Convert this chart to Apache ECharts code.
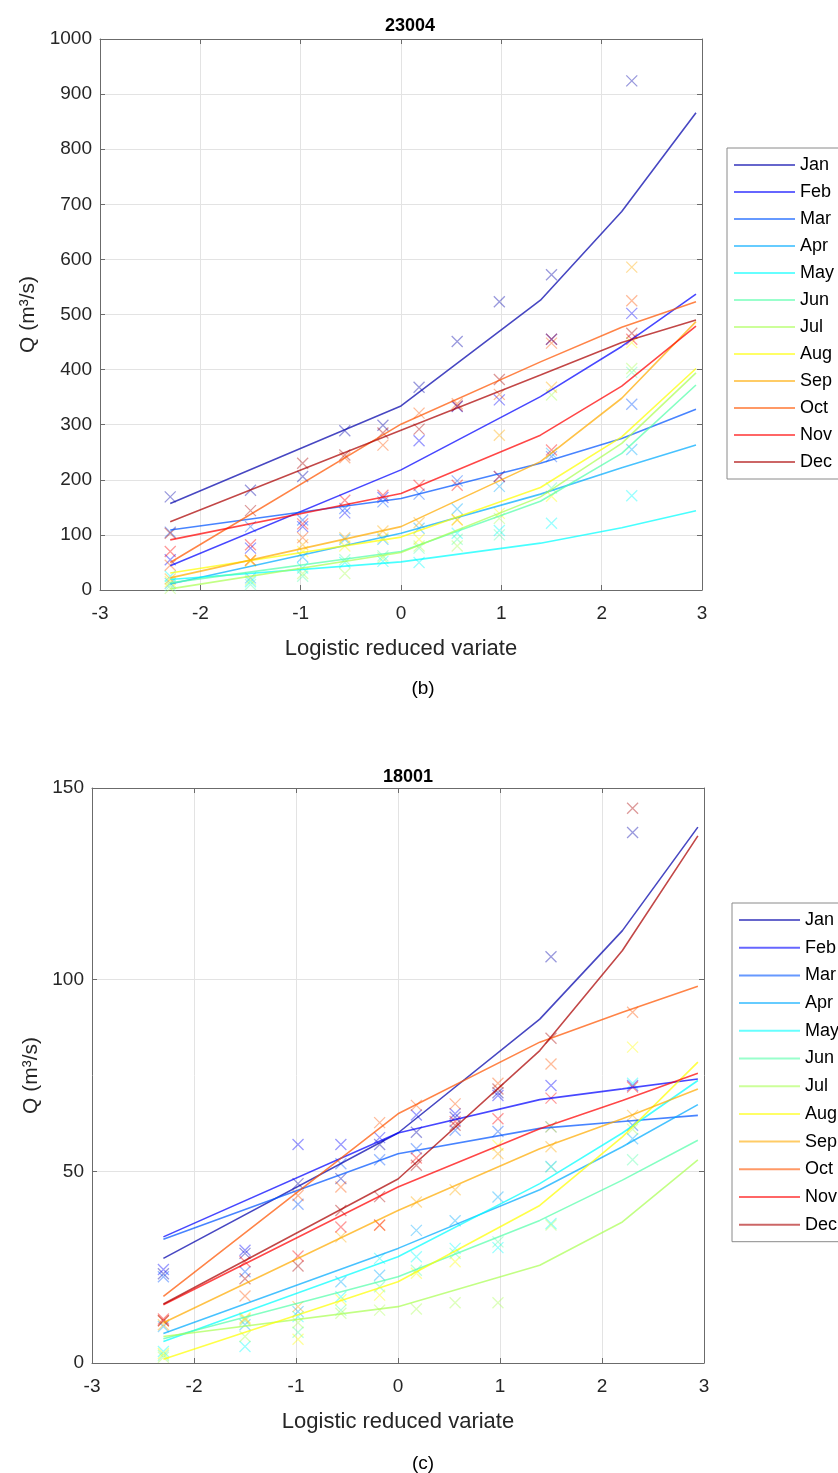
<!DOCTYPE html>
<html>
<head>
<meta charset="utf-8">
<script src="https://cdn.jsdelivr.net/npm/echarts@6/dist/echarts.min.js"></script>
<style>
  html, body { margin: 0; padding: 0; background: #fff; }
  #main { width: 838px; height: 1473px; }
</style>
</head>
<body>
<div id="main"></div>
<script>
  // months and jet(12) palette
  const months = ['Jan', 'Feb', 'Mar', 'Apr', 'May', 'Jun', 'Jul', 'Aug', 'Sep', 'Oct', 'Nov', 'Dec'];
  const jet = ['#0000AA', '#0000FF', '#0055FF', '#00AAFF', '#00FFFF', '#55FFAA',
               '#AAFF55', '#FFFF00', '#FFAA00', '#FF5500', '#FF0000', '#AA0000'];

  // plotting positions (logistic reduced variate) of the observed values
  const plotX = [-2.30, -1.50, -0.98, -0.56, -0.18, 0.18, 0.56, 0.98, 1.50, 2.30];
  // x where the fitted curves are evaluated
  const curveX = [-2.30, 0, 1.39, 2.20, 2.94];

  // station 23004, fitted curves (one row per month)
  const fit23004 = [
    [157, 334, 526, 687, 866],
    [44, 218, 351, 442, 537],
    [109, 166, 230, 275, 328],
    [11, 103, 174, 222, 263],
    [19, 51, 85, 113, 144],
    [13, 70, 161, 248, 372],
    [2, 68, 169, 266, 394],
    [31, 96, 186, 278, 402],
    [22, 115, 233, 348, 487],
    [50, 301, 414, 477, 523],
    [91, 175, 281, 370, 479],
    [124, 290, 390, 449, 490]
  ];
  // station 23004, observed values
  const obs23004 = [
    [169, 181, 206, 289, 299, 368, 451, 523, 572, 924],
    [55, 76, 115, 140, 168, 271, 333, 345, 455, 502],
    [105, 115, 127, 148, 160, 174, 198, 206, 242, 337],
    [12, 22, 60, 92, 92, 112, 147, 188, 248, 255],
    [25, 15, 40, 50, 52, 50, 103, 108, 121, 171],
    [8, 10, 25, 55, 62, 76, 92, 100, 185, 395],
    [3, 18, 30, 30, 58, 80, 80, 130, 354, 402],
    [15, 52, 70, 80, 95, 92, 128, 139, 170, 449],
    [20, 54, 82, 95, 107, 122, 127, 281, 368, 586],
    [45, 54, 95, 240, 263, 321, 338, 355, 448, 525],
    [70, 82, 120, 163, 172, 190, 190, 206, 254, 455],
    [103, 144, 230, 245, 285, 292, 334, 382, 455, 466]
  ];

  // station 18001, fitted curves
  const fit18001 = [
    [27.3, 60, 89.7, 112.8, 139.8],
    [32.9, 60, 68.7, 71.5, 74.1],
    [32.3, 54.6, 61.2, 63, 64.6],
    [7.7, 29.9, 45.2, 56.4, 67.4],
    [5.6, 27.7, 46.8, 60, 73.7],
    [6.3, 22.5, 37.2, 47.7, 58.1],
    [6.9, 14.7, 25.5, 36.8, 53],
    [1.0, 21.2, 41.1, 59, 78.5],
    [10.5, 39.8, 55.9, 63.7, 71.5],
    [17.4, 65, 83.7, 91.5, 98.3],
    [15.2, 45.9, 61.1, 68.5, 75.6],
    [15.4, 48, 81.5, 107.6, 137.5]
  ];
  // station 18001, observed values
  const obs18001 = [
    [23.3, 28.6, 46.8, 48.1, 57, 60.2, 64.1, 70.5, 106, 138.4],
    [24.4, 29.4, 57, 57, 58.8, 64.7, 65, 69.8, 72.4, 72.4],
    [22.5, 23.8, 41.4, 52, 53, 55.9, 60.7, 60.4, 61.6, 62],
    [9.5, 10, 13.4, 21.2, 22.9, 34.6, 37.1, 43.3, 51.3, 58.5],
    [3, 4.3, 12.1, 17.3, 27.3, 27.7, 29.9, 30.1, 36.4, 73],
    [2, 11, 8, 13.8, 19.9, 24.2, 28.6, 31.6, 51.1, 53],
    [1.5, 6.9, 10.5, 13, 13.8, 14.1, 15.7, 15.7, 36, 61],
    [2.5, 11.8, 6.2, 16.5, 17.7, 23.4, 26.4, 56.8, 61.6, 82.4],
    [10, 11.5, 14.7, 32.9, 35.9, 42, 45.2, 54.6, 56.4, 64.6],
    [11, 17.5, 43.7, 45.9, 62.7, 67.2, 67.6, 73, 78, 91.5],
    [11.5, 26.4, 27.9, 35.5, 36, 53.5, 63, 63.7, 69.1, 72],
    [11, 22, 25.3, 39.8, 43.4, 51.6, 62, 71.5, 84.7, 144.7]
  ];

  const font = 'Liberation Sans, Arial, sans-serif';
  const axisGray = '#6b6b6b';
  const crossPath = 'path://M0,0L10,10M10,0L0,10';

  function xAxes(gridIndex) {
    const base = {
      gridIndex: gridIndex, type: 'value', min: -3, max: 3, interval: 1,
      axisLine: { show: true, onZero: false, lineStyle: { color: axisGray, width: 1 } },
      axisTick: { show: true, inside: true, length: 5, lineStyle: { color: axisGray } }
    };
    return [
      Object.assign({}, base, {
        position: 'bottom',
        name: 'Logistic reduced variate', nameLocation: 'middle', nameGap: 48,
        nameTextStyle: { fontFamily: font, fontSize: 22, color: '#262626' },
        axisLabel: { fontFamily: font, fontSize: 19, color: '#262626', margin: 14 },
        splitLine: { show: true, lineStyle: { color: '#e3e3e3', width: 1 } }
      }),
      Object.assign({}, base, {
        position: 'top',
        axisLabel: { show: false },
        splitLine: { show: false }
      })
    ];
  }

  function yAxes(gridIndex, max, interval, nameGap) {
    const base = {
      gridIndex: gridIndex, type: 'value', min: 0, max: max, interval: interval,
      axisLine: { show: true, onZero: false, lineStyle: { color: axisGray, width: 1 } },
      axisTick: { show: true, inside: true, length: 5, lineStyle: { color: axisGray } }
    };
    return [
      Object.assign({}, base, {
        position: 'left',
        name: 'Q (m³/s)', nameLocation: 'middle', nameGap: nameGap, nameRotate: 90,
        nameTextStyle: { fontFamily: font, fontSize: 21, color: '#262626' },
        axisLabel: { fontFamily: font, fontSize: 19, color: '#262626', margin: 8,
                     formatter: function (v) { return String(v); } },
        splitLine: { show: true, lineStyle: { color: '#e3e3e3', width: 1 } }
      }),
      Object.assign({}, base, {
        position: 'right',
        axisLabel: { show: false },
        splitLine: { show: false }
      })
    ];
  }

  function panelSeries(fit, obs, xIdx, yIdx) {
    const out = [];
    months.forEach(function (m, i) {
      out.push({
        name: m, type: 'line', xAxisIndex: xIdx, yAxisIndex: yIdx,
        data: curveX.map(function (x, k) { return [x, fit[i][k]]; }),
        symbol: 'none', color: jet[i],
        lineStyle: { width: 1.6, color: jet[i], opacity: 0.72 },
        z: 3
      });
    });
    months.forEach(function (m, i) {
      out.push({
        name: m + ' obs', type: 'scatter', xAxisIndex: xIdx, yAxisIndex: yIdx,
        data: plotX.map(function (x, k) { return [x, obs[i][k]]; }),
        symbol: crossPath, symbolSize: 11,
        itemStyle: { color: 'rgba(0,0,0,0)', borderColor: jet[i], borderWidth: 1.3, opacity: 0.4 },
        z: 2
      });
    });
    return out;
  }

  function legend(top, left, gap) {
    return {
      data: months, orient: 'vertical', top: top, left: left,
      padding: [8, 30, 8, 7], itemGap: gap, itemWidth: 61, itemHeight: 2,
      icon: 'rect', selectedMode: false,
      itemStyle: { opacity: 0.6 },
      borderColor: '#8a8a8a', borderWidth: 1, backgroundColor: '#fff',
      textStyle: { fontFamily: font, fontSize: 18, color: '#000', lineHeight: 18, padding: [0, 0, 0, 0] }
    };
  }

  const chart = echarts.init(document.getElementById('main'));
  const xa = xAxes(0).concat(xAxes(1));
  const ya = yAxes(0, 1000, 100, 58).concat(yAxes(1, 150, 50, 50));

  chart.setOption({
    animation: false,
    backgroundColor: '#fff',
    title: [
      { text: '23004', left: 405, top: 12, textAlign: 'center',
        textStyle: { fontFamily: font, fontSize: 18, fontWeight: 'bold', color: '#000' } },
      { text: '(b)', left: 418, top: 674, textAlign: 'center',
        textStyle: { fontFamily: font, fontSize: 19, fontWeight: 'normal', color: '#000' } },
      { text: '18001', left: 403, top: 763, textAlign: 'center',
        textStyle: { fontFamily: font, fontSize: 18, fontWeight: 'bold', color: '#000' } },
      { text: '(c)', left: 418, top: 1449, textAlign: 'center',
        textStyle: { fontFamily: font, fontSize: 19, fontWeight: 'normal', color: '#000' } }
    ],
    grid: [
      { left: 100, top: 39, width: 602, height: 551 },
      { left: 92, top: 788, width: 612, height: 575 }
    ],
    legend: [legend(148, 727, 9), legend(903, 732, 9.7)],
    xAxis: xa,
    yAxis: ya,
    series: panelSeries(fit23004, obs23004, 0, 0).concat(panelSeries(fit18001, obs18001, 2, 2))
  });
</script>
</body>
</html>
